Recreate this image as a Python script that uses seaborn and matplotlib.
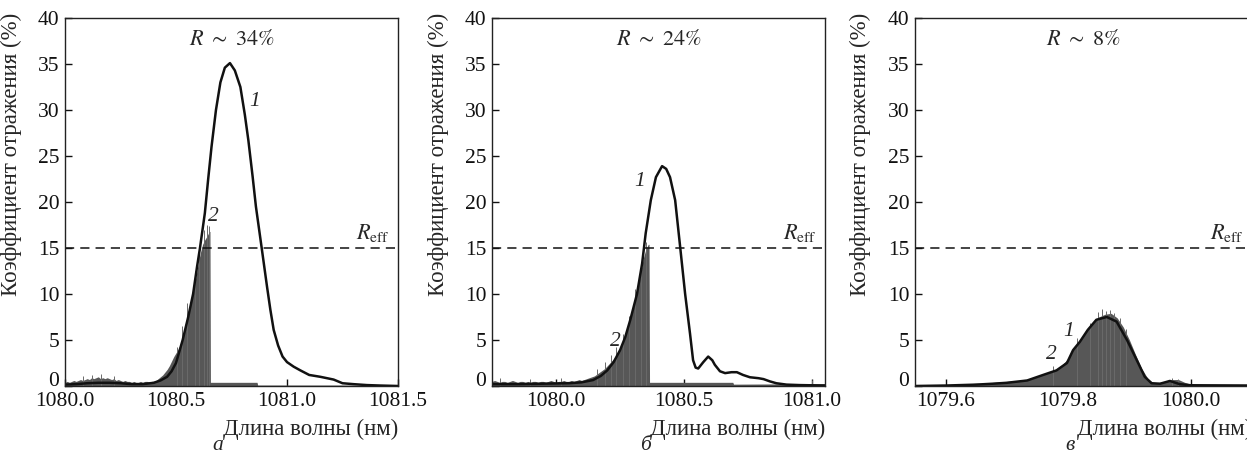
import numpy as np
import pandas as pd
import matplotlib
matplotlib.use("Agg")
import matplotlib.pyplot as plt
import seaborn as sns

## Data
# curve 1 (black line), panel a
lam1_a = [1080.00, 1080.05, 1080.10, 1080.15, 1080.20, 1080.25, 1080.30, 1080.35, 1080.40, 1080.43,
          1080.46, 1080.48, 1080.50, 1080.53, 1080.555, 1080.577, 1080.595, 1080.608, 1080.63, 1080.645,
          1080.66, 1080.68, 1080.70, 1080.72, 1080.743, 1080.765, 1080.79, 1080.81, 1080.826, 1080.845,
          1080.86, 1080.886, 1080.91, 1080.925, 1080.94, 1080.96, 1080.98, 1081.00, 1081.03, 1081.06,
          1081.10, 1081.15, 1081.21, 1081.25, 1081.30, 1081.36, 1081.42, 1081.50]
r1_a = [0.15, 0.2, 0.3, 0.35, 0.35, 0.3, 0.2, 0.2, 0.35, 0.6,
        1.0, 1.6, 2.5, 5.0, 7.5, 10.0, 13.0, 15.0, 18.8, 22.5,
        26.0, 30.0, 33.0, 34.6, 35.1, 34.3, 32.5, 29.5, 26.7, 22.8,
        19.5, 15.0, 10.8, 8.3, 6.1, 4.4, 3.2, 2.6, 2.1, 1.7,
        1.2, 1.0, 0.7, 0.3, 0.2, 0.1, 0.05, 0.0]

# curve 2 (grey spectrum), panel a
lam2_a = list(np.round(np.arange(1080.00, 1080.655, 0.01), 3)) + [1080.653, 1080.655, 1080.865, 1080.868, 1081.30, 1081.50]
r2_a = [0.4, 0.5, 0.4, 0.5, 0.6, 0.5, 0.6, 0.7, 0.6, 0.7,
        0.8, 0.7, 0.9, 0.8, 0.9, 1.0, 0.8, 0.9, 0.8, 0.9,
        0.8, 0.7, 0.8, 0.6, 0.7, 0.6, 0.5, 0.6, 0.5, 0.5,
        0.4, 0.5, 0.4, 0.4, 0.5, 0.4, 0.5, 0.5, 0.4, 0.5,
        0.5, 0.6, 0.8, 1.0, 1.2, 1.5, 1.8, 2.2, 2.7, 3.2,
        3.6, 4.0, 4.5, 5.2, 6.2, 7.2, 8.2, 9.4, 10.6, 11.9,
        13.3, 14.5, 15.4, 15.9, 16.3, 16.8,
        16.8, 0.4, 0.4, 0.1, 0.1, 0.0]
spk_lam_a = [1080.08, 1080.12, 1080.16, 1080.22, 1080.505, 1080.525, 1080.548, 1080.585, 1080.605,
             1080.625, 1080.638, 1080.648]
spk_r_a = [1.1, 1.2, 1.3, 1.1, 4.2, 6.5, 9.0, 12.5, 14.8, 17.0, 17.5, 17.4]

# panel b
lam1_b = [1079.75, 1079.85, 1079.95, 1080.05, 1080.10, 1080.145, 1080.175, 1080.20, 1080.225, 1080.25,
          1080.27, 1080.29, 1080.316, 1080.336, 1080.35, 1080.37, 1080.39, 1080.414, 1080.43, 1080.445,
          1080.465, 1080.485, 1080.504, 1080.523, 1080.535, 1080.545, 1080.555, 1080.575, 1080.594, 1080.61,
          1080.62, 1080.64, 1080.66, 1080.685, 1080.706, 1080.73, 1080.757, 1080.79, 1080.81, 1080.835,
          1080.86, 1080.90, 1080.95, 1081.05]
r1_b = [0.2, 0.2, 0.25, 0.3, 0.4, 0.65, 1.1, 1.7, 2.6, 3.9,
        5.3, 7.2, 10.0, 13.3, 16.6, 20.2, 22.7, 23.9, 23.6, 22.7,
        20.2, 15.0, 10.0, 5.7, 2.8, 2.0, 1.9, 2.6, 3.2, 2.8,
        2.3, 1.6, 1.4, 1.5, 1.5, 1.2, 0.95, 0.85, 0.75, 0.5,
        0.3, 0.15, 0.1, 0.05]

lam2_b = list(np.round(np.arange(1079.75, 1080.365, 0.01), 3)) + [1080.363, 1080.365, 1080.69, 1080.693, 1081.05]
r2_b = [0.5, 0.6, 0.5, 0.4, 0.5, 0.5, 0.4, 0.5, 0.6, 0.5,
        0.4, 0.5, 0.5, 0.4, 0.5, 0.4, 0.5, 0.5, 0.4, 0.5,
        0.5, 0.4, 0.5, 0.6, 0.5, 0.4, 0.5, 0.5, 0.6, 0.5,
        0.5, 0.6, 0.5, 0.6, 0.7, 0.6, 0.7, 0.8, 0.9, 1.0,
        1.1, 1.3, 1.5, 1.7, 1.9, 2.2, 2.5, 2.8, 3.1, 3.5,
        4.0, 4.7, 5.4, 6.3, 7.3, 8.3, 9.5, 10.8, 12.3, 13.8,
        14.8, 15.4,
        15.4, 0.4, 0.4, 0.2, 0.25]
spk_lam_b = [1079.78, 1079.90, 1080.02, 1080.16, 1080.19, 1080.215, 1080.235, 1080.262, 1080.285, 1080.31,
             1080.33, 1080.352, 1081.00]
spk_r_b = [0.9, 0.8, 0.9, 1.8, 2.6, 3.4, 4.2, 5.6, 7.6, 10.5, 13.2, 15.6, 0.6]

# panel c
lam1_c = [1079.55, 1079.60, 1079.65, 1079.677, 1079.70, 1079.733, 1079.759, 1079.781, 1079.798, 1079.808,
          1079.819, 1079.832, 1079.846, 1079.863, 1079.879, 1079.896, 1079.912, 1079.925, 1079.936, 1079.95,
          1079.966, 1079.982, 1080.00, 1080.10]
r1_c = [0.0, 0.05, 0.15, 0.25, 0.35, 0.6, 1.2, 1.7, 2.5, 3.9,
        4.8, 6.1, 7.2, 7.5, 7.0, 5.0, 2.8, 1.0, 0.3, 0.25,
        0.55, 0.2, 0.08, 0.05]

lam2_c = list(np.round(np.arange(1079.55, 1080.105, 0.01), 3))
r2_c = [0.1, 0.1, 0.1, 0.1, 0.15, 0.1, 0.15, 0.2, 0.2, 0.25,
        0.3, 0.3, 0.35, 0.4, 0.45, 0.5, 0.55, 0.6, 0.7, 0.8,
        1.0, 1.3, 1.5, 1.8, 2.3, 3.0, 4.2, 5.1, 6.1, 6.9,
        7.5, 7.8, 7.9, 7.4, 6.4, 5.0, 3.4, 1.9, 0.8, 0.3,
        0.4, 0.5, 0.7, 0.7, 0.4, 0.2, 0.15, 0.1, 0.1, 0.1,
        0.1, 0.1, 0.15, 0.1, 0.1, 0.1]
spk_lam_c = [1079.775, 1079.815, 1079.835, 1079.848, 1079.856, 1079.862, 1079.868, 1079.875, 1079.885, 1079.895,
             1079.97, 1079.98]
spk_r_c = [2.2, 5.2, 6.8, 8.0, 8.4, 8.2, 8.3, 7.9, 7.4, 6.2, 0.9, 0.8]

r_values = ["34", "24", "8"]
panel_letters = ["а", "б", "в"]
r_eff = 15
xlims = [(1080.0, 1081.5), (1079.75, 1081.05), (1079.55, 1080.1)]
xticks = [[1080.0, 1080.5, 1081.0, 1081.5], [1080.0, 1080.5, 1081.0], [1079.6, 1079.8, 1080.0]]
# label positions for curve numbers (wavelength, R)
lbl1 = [(1080.856, 30.9), (1080.328, 22.2), (1079.800, 5.9)]
lbl2 = [(1080.667, 18.4), (1080.230, 4.8), (1079.773, 3.4)]

## Style
sns.set_theme(style="ticks")
plt.rcParams["font.family"] = ["Liberation Serif", "DejaVu Serif"]
plt.rcParams["mathtext.fontset"] = "stix"
plt.rcParams["axes.linewidth"] = 1.0
plt.rcParams["axes.edgecolor"] = "#222222"

fig = plt.figure(figsize=(12.47, 4.61), dpi=100)
lefts = [65 / 1247, 492 / 1247, 915 / 1247]
widths = [333 / 1247, 333 / 1247, 337 / 1247]
axes = [fig.add_axes([l, 75 / 461, w, 368 / 461]) for l, w in zip(lefts, widths)]

curves1 = [(lam1_a, r1_a), (lam1_b, r1_b), (lam1_c, r1_c)]
curves2 = [(lam2_a, r2_a), (lam2_b, r2_b), (lam2_c, r2_c)]
spikes = [(spk_lam_a, spk_r_a), (spk_lam_b, spk_r_b), (spk_lam_c, spk_r_c)]
grey = "#575757"

for i, ax in enumerate(axes):
    g = pd.DataFrame({"lam": curves2[i][0], "R": curves2[i][1]})
    ax.fill_between(g["lam"], 0, g["R"], color=grey, lw=0)
    ax.vlines(spikes[i][0], 0, spikes[i][1], color="#6a6a6a", lw=0.7)

    d = pd.DataFrame({"lam": curves1[i][0], "R": curves1[i][1]})
    sns.lineplot(data=d, x="lam", y="R", ax=ax, color="#111111", lw=1.8, sort=False, estimator=None)

    ax.axhline(r_eff, color="#111111", lw=1.1, ls=(0, (6, 4)))

    ax.set_xlim(*xlims[i])
    ax.set_ylim(0, 40)
    ax.set_xticks(xticks[i])
    ax.set_xticklabels([f"{t:.1f}" for t in xticks[i]])
    ax.set_yticks(range(0, 41, 5))
    ax.tick_params(direction="in", length=5, width=1.0, labelsize=15.5, pad=4, colors="#111111")
    ax.get_yticklabels()[0].set_va("baseline")
    for s in ax.spines.values():
        s.set_visible(True)

    ax.set_ylabel("Коэффициент отражения (%)", fontsize=16.5)
    ax.yaxis.set_label_coords(-0.13, 0.63)
    ax.set_xlabel("Длина волны (нм)", fontsize=16.5, ha="right")
    ax.xaxis.set_label_coords(1.0, -0.088)

    ax.text(0.5, 0.94, rf"$R\ \sim\ {r_values[i]}\%$", transform=ax.transAxes,
            ha="center", va="center", fontsize=16)
    ax.text(0.975, r_eff + 0.4, r"$R_{\mathrm{eff}}$", transform=ax.get_yaxis_transform(),
            ha="right", va="bottom", fontsize=16)
    ax.text(*lbl1[i], "1", fontsize=15.5, fontstyle="italic", ha="center", va="center")
    ax.text(*lbl2[i], "2", fontsize=15.5, fontstyle="italic", ha="center", va="center")
    ax.text(0.46, -0.174, panel_letters[i], transform=ax.transAxes, fontsize=15.5,
            fontstyle="italic", ha="center", va="baseline")

fig.savefig("out.png", dpi=100)
